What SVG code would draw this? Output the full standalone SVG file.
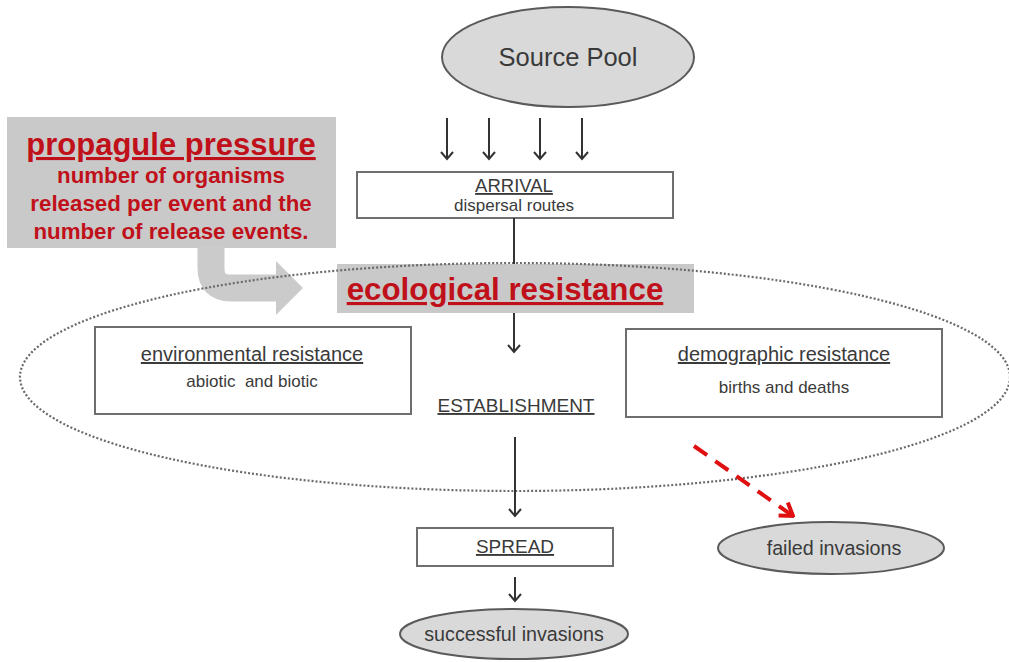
<svg xmlns="http://www.w3.org/2000/svg" width="1009" height="662" viewBox="0 0 1009 662">
<style>
  text { font-family: "Liberation Sans", Arial, sans-serif; fill: #3a3a3a; }
  .box { fill: #ffffff; stroke: #6e6e6e; stroke-width: 2; }
  .oval { fill: #d9d9d9; stroke: #5a5a5a; stroke-width: 2; }
  .u { text-decoration: underline; }
  .red { fill: #c0101a; font-weight: bold; }
  .conn { stroke: #333; stroke-width: 2; fill: none; }
  .grey { fill: #c9c9c9; }
  .pre { white-space: pre; }
</style>
<defs>
  <marker id="ah" viewBox="-9 -7 11 14" markerWidth="11" markerHeight="14" refX="0" refY="0" orient="auto" markerUnits="userSpaceOnUse">
    <path d="M-7,-6 L0,0 L-7,6" fill="none" stroke="#333" stroke-width="2"/>
  </marker>
  <marker id="ahr" viewBox="-14 -10 16 20" markerWidth="16" markerHeight="20" refX="0" refY="0" orient="auto" markerUnits="userSpaceOnUse">
    <path d="M-12,-8 L0,0 L-12,8" fill="none" stroke="#e01010" stroke-width="4"/>
  </marker>
</defs>

<g id="propagule">
  <rect x="7" y="117" width="329" height="131" class="grey"/>
  <path d="M211,246 L211,268 Q211,288 231,288 L280,288" fill="none" stroke="#cbcbcb" stroke-width="27"/>
  <polygon points="276,261 303,288 276,315" fill="#cbcbcb"/>
  <text x="171" y="155" text-anchor="middle" font-size="31" class="red u">propagule pressure</text>
  <text x="171" y="183" text-anchor="middle" font-size="22.3" class="red">number of organisms</text>
  <text x="171" y="211" text-anchor="middle" font-size="22.3" class="red">released per event and the</text>
  <text x="171" y="239" text-anchor="middle" font-size="22.3" class="red">number of release events.</text>
</g>

<g id="ecological">
  <rect x="337" y="264" width="357" height="49" class="grey"/>
  <text x="505" y="300" text-anchor="middle" font-size="31.3" class="red u">ecological resistance</text>
</g>

<g id="resistance-zone">
  <ellipse cx="515" cy="377" rx="495" ry="114" fill="none" stroke="#6a6a6a" stroke-width="2.2" stroke-dasharray="2 2"/>
</g>

<g id="source-pool">
  <ellipse cx="568" cy="57" rx="126" ry="50" class="oval"/>
  <text x="568" y="66" text-anchor="middle" font-size="25.5">Source Pool</text>
</g>

<g id="arrival">
  <rect x="357" y="172" width="316" height="46" class="box"/>
  <text x="514" y="192" text-anchor="middle" font-size="18.5" class="u">ARRIVAL</text>
  <text x="514" y="211" text-anchor="middle" font-size="17">dispersal routes</text>
</g>

<g id="environmental">
  <rect x="95" y="327" width="316" height="87" class="box"/>
  <text x="252" y="361" text-anchor="middle" font-size="20" class="u">environmental resistance</text>
  <text x="252" y="387" text-anchor="middle" font-size="17" class="pre">abiotic  and biotic</text>
</g>

<g id="demographic">
  <rect x="626" y="329" width="316" height="88" class="box"/>
  <text x="784" y="361" text-anchor="middle" font-size="20" class="u">demographic resistance</text>
  <text x="784" y="393" text-anchor="middle" font-size="17">births and deaths</text>
</g>

<g id="establishment">
  <text x="516" y="412" text-anchor="middle" font-size="19" class="u">ESTABLISHMENT</text>
</g>

<g id="spread">
  <rect x="417" y="528" width="196" height="38" class="box"/>
  <text x="515" y="553" text-anchor="middle" font-size="19" class="u">SPREAD</text>
</g>

<g id="successful">
  <ellipse cx="514" cy="634" rx="114" ry="25" class="oval"/>
  <text x="514" y="641" text-anchor="middle" font-size="19.7">successful invasions</text>
</g>

<g id="failed">
  <ellipse cx="831" cy="548" rx="113" ry="26" class="oval"/>
  <text x="834" y="555" text-anchor="middle" font-size="19.7">failed invasions</text>
</g>

<g id="connectors">
  <line x1="447" y1="118" x2="447" y2="159" class="conn" marker-end="url(#ah)"/>
  <line x1="489" y1="118" x2="489" y2="159" class="conn" marker-end="url(#ah)"/>
  <line x1="540" y1="118" x2="540" y2="159" class="conn" marker-end="url(#ah)"/>
  <line x1="582" y1="118" x2="582" y2="159" class="conn" marker-end="url(#ah)"/>
  <line x1="514" y1="218" x2="514" y2="264" class="conn"/>
  <line x1="514" y1="313" x2="514" y2="352" class="conn" marker-end="url(#ah)"/>
  <line x1="515" y1="437" x2="515" y2="516" class="conn" marker-end="url(#ah)"/>
  <line x1="515" y1="577" x2="515" y2="601" class="conn" marker-end="url(#ah)"/>
  <line x1="694" y1="446" x2="793" y2="516" stroke="#e01010" stroke-width="4" stroke-dasharray="16 10" marker-end="url(#ahr)"/>
</g>
</svg>
